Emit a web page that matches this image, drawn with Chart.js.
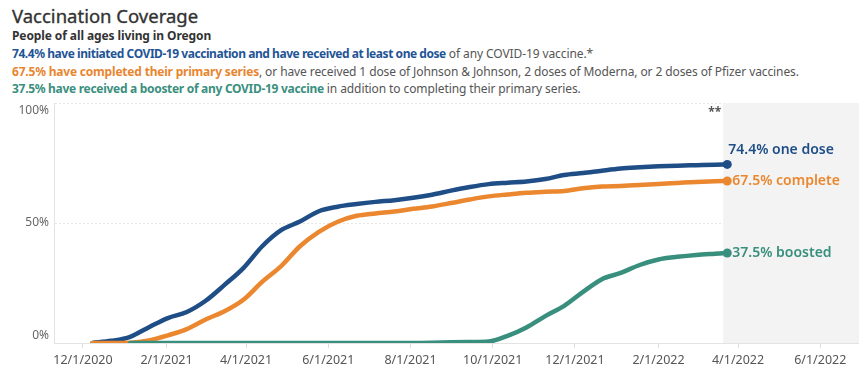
<!DOCTYPE html>
<html>
<head>
<meta charset="utf-8">
<script src="https://cdn.jsdelivr.net/npm/chart.js@4/dist/chart.umd.min.js"></script>
<style>
  html, body { margin: 0; padding: 0; background: #fff; }
  body { width: 859px; height: 373px; position: relative; overflow: hidden; font-family: "Noto Sans", sans-serif; }
  #chart { position: absolute; left: 0; top: 0; }
  .hdr { position: absolute; left: 12px; white-space: nowrap; color: #555; }
  #t { top: 3px; font-size: 18.5px; color: #333; line-height: 26px; -webkit-text-stroke: 0.35px #333; }
  #s { top: 28px; font-size: 12px; font-weight: bold; color: #333; line-height: 16px; letter-spacing: -0.1px; }
  .ln { font-size: 12px; line-height: 16px; letter-spacing: -0.1px; }
  #l1 { top: 46px; } #l2 { top: 64px; } #l3 { top: 81px; }
  .b { color: #1f5596; font-weight: bold; letter-spacing: -0.45px; }
  .o { color: #e8862f; font-weight: bold; letter-spacing: -0.2px; }
  .g { color: #3a8f7e; font-weight: bold; letter-spacing: -0.3px; }
</style>
</head>
<body>
<div class="hdr" id="t">Vaccination Coverage</div>
<div class="hdr" id="s">People of all ages living in Oregon</div>
<div class="hdr ln" id="l1"><span class="b">74.4% have initiated COVID-19 vaccination and have received at least one dose</span> of any COVID-19 vaccine.*</div>
<div class="hdr ln" id="l2"><span class="o">67.5% have completed their primary series</span>, or have received 1 dose of Johnson &amp; Johnson, 2 doses of Moderna, or 2 doses of Pfizer vaccines.</div>
<div class="hdr ln" id="l3"><span class="g">37.5% have received a booster of any COVID-19 vaccine</span> in addition to completing their primary series.</div>
<canvas id="chart" width="859" height="373"></canvas>
<script>
// ---- data ----
const dates = ['2020-12-08','2020-12-22','2021-01-05','2021-01-19','2021-02-02','2021-02-16','2021-03-02','2021-03-16','2021-03-30','2021-04-13','2021-04-27','2021-05-11','2021-05-25','2021-06-08','2021-06-22','2021-07-06','2021-07-20','2021-08-03','2021-08-17','2021-08-31','2021-09-14','2021-09-28','2021-10-12','2021-10-26','2021-11-09','2021-11-23','2021-12-07','2021-12-21','2022-01-04','2022-01-18','2022-02-01','2022-02-15','2022-03-01','2022-03-15','2022-03-24'];
const oneDose  = [0,0.9,2.6,6.6,10.4,12.9,17.6,24.2,31.2,40.3,47,50.6,54.9,56.8,57.9,58.8,59.5,60.5,61.8,63.5,65,66.2,66.8,67.3,68.3,70,70.8,71.8,72.7,73.2,73.6,73.9,74.1,74.3,74.4];
const complete = [0,0,0.1,1.1,3.2,5.8,9.8,13.2,18,25.5,32,40.3,46.3,50.5,53,54,54.8,55.9,56.9,58.3,59.8,61.1,61.9,62.6,63,63.3,64.5,65.2,65.4,65.8,66.3,66.7,67.1,67.4,67.5];
const boosted  = [null,null,0,0,0,0,0,0,0,0,0,0,0,0,0,0,0,0,0.1,0.3,0.4,0.6,3,6.5,11.2,15.5,21.3,26.6,29.2,32.5,34.8,35.9,36.7,37.2,37.5];
const seriesNames = ['one dose','complete','boosted'];
const endLabels = ['74.4% one dose','67.5% complete','37.5% boosted'];
const xTickDates = ['2020-12-01','2021-02-01','2021-04-01','2021-06-01','2021-08-01','2021-10-01','2021-12-01','2022-02-01','2022-04-01','2022-06-01'];
const yTicks = [0,50,100];
const shadeStart = '2022-03-21';
const note = '**';

// ---- helpers ----
const toDay = s => Date.parse(s + 'T00:00:00Z') / 864e5;
const fmt = v => { const d = new Date(Math.round(v) * 864e5); return (d.getUTCMonth()+1) + '/' + d.getUTCDate() + '/' + d.getUTCFullYear(); };
const pts = arr => dates.map((d,i) => ({x: toDay(d), y: arr[i]}));
const BLUE = '#1f4e87', ORANGE = '#ea872f', TEAL = '#388f7d';
const base = toDay('2020-12-01');

const lastRadius = ctx => ctx.dataIndex === ctx.dataset.data.length - 1 ? 4.5 : 0;

const overlay = {
  id: 'overlay',
  beforeDatasetsDraw(chart) {
    const {ctx, chartArea: a, scales: {x}} = chart;
    const sx = x.getPixelForValue(toDay(shadeStart));
    ctx.save();
    ctx.fillStyle = '#f3f3f3';
    ctx.fillRect(sx, a.top, a.right - sx + 2, a.bottom - a.top);
    ctx.fillStyle = '#555';
    ctx.font = 'bold 12px "Noto Sans"';
    ctx.textAlign = 'right';
    ctx.textBaseline = 'middle';
    ctx.fillText(note, sx - 2, a.top + 10);
    ctx.restore();
  },
  afterDatasetsDraw(chart) {
    const {ctx} = chart;
    const offs = [[1,-14],[5,0],[5,0]];
    ctx.save();
    ctx.font = '600 14px "Noto Sans"';
    ctx.textAlign = 'left';
    ctx.textBaseline = 'middle';
    chart.data.datasets.forEach((ds, i) => {
      const meta = chart.getDatasetMeta(i);
      const p = meta.data[meta.data.length - 1];
      const k = ds.labelIndex;
      ctx.fillStyle = ds.borderColor;
      ctx.fillText(endLabels[k], p.x + offs[k][0], p.y + offs[k][1]);
    });
    ctx.restore();
  }
};

new Chart(document.getElementById('chart'), {
  type: 'line',
  data: {
    datasets: [
      {label: seriesNames[2], labelIndex: 2, data: pts(boosted), borderColor: TEAL, backgroundColor: TEAL},
      {label: seriesNames[1], labelIndex: 1, data: pts(complete), borderColor: ORANGE, backgroundColor: ORANGE},
      {label: seriesNames[0], labelIndex: 0, data: pts(oneDose), borderColor: BLUE, backgroundColor: BLUE}
    ]
  },
  options: {
    responsive: false,
    animation: false,
    events: [],
    layout: {autoPadding: false, padding: {top: 103, right: 1, left: 0, bottom: 0}},
    elements: {
      line: {borderWidth: 4.5, cubicInterpolationMode: 'monotone', borderCapStyle: 'round', borderJoinStyle: 'round'},
      point: {radius: lastRadius, borderWidth: 0}
    },
    plugins: {legend: {display: false}, tooltip: {enabled: false}},
    scales: {
      x: {
        type: 'linear',
        min: base - 21.5,
        max: base + 575,
        afterBuildTicks: s => { s.ticks = xTickDates.map(d => ({value: toDay(d)})); },
        afterFit: s => { s.height = 30; s.paddingLeft = 0; s.paddingRight = 0; },
        ticks: {autoSkip: false, maxRotation: 0, padding: 5, color: '#555', font: {family: 'Noto Sans', size: 12.5}, callback: v => fmt(v)},
        grid: {drawOnChartArea: false, drawTicks: true, tickLength: 5, color: '#dddddd'},
        border: {display: true, color: '#e3e3e3', width: 1}
      },
      y: {
        min: 0, max: 100,
        afterBuildTicks: s => { s.ticks = yTicks.map(v => ({value: v})); },
        afterFit: s => { s.width = 54; },
        ticks: {padding: 5, color: '#666', font: {family: 'Noto Sans', size: 12},
          callback: v => v === 100 ? ['', v + '%'] : (v === 0 ? [v + '%', ''] : v + '%')},
        grid: {drawTicks: false, color: c => c.tick && c.tick.value === 0 ? 'rgba(0,0,0,0)' : '#e6e6e6', lineWidth: 1},
        border: {display: true, color: '#e3e3e3', dash: [2,2], width: 1}
      }
    }
  },
  plugins: [overlay]
});
</script>
</body>
</html>
